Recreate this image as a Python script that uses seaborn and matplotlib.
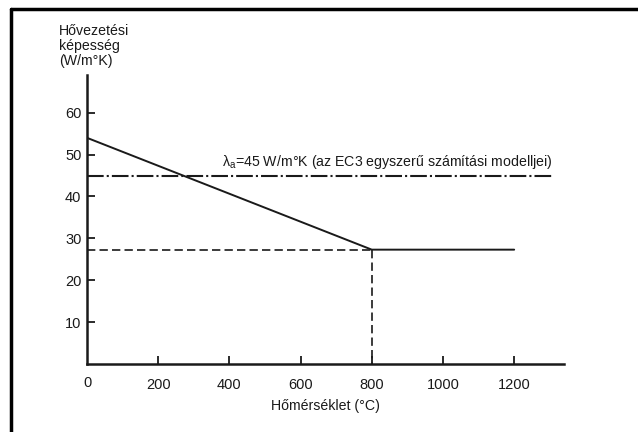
import pandas as pd
import seaborn as sns
import matplotlib.pyplot as plt
from matplotlib.lines import Line2D

sns.set_style("ticks")
plt.rcParams['font.family'] = ['Liberation Sans', 'DejaVu Sans']
plt.rcParams['lines.scale_dashes'] = False
plt.rcParams['mathtext.default'] = 'regular'

# hővezetési tényező a hőmérséklet függvényében
temperature = [0, 800, 1200]
conductivity = [54, 27.3, 27.3]

# EC3 egyszerű modell konstans értéke
ec3_temp = [0, 1305]
ec3_value = [45, 45]

# segédvonalak 800 °C-nál
guide_temp = [0, 800, 800]
guide_value = [27.3, 27.3, 0]

x_ticks = [200, 400, 600, 800, 1000, 1200]
x_labels = ['200', '400', '600', '800', '1000', '1200']
y_ticks = [10, 20, 30, 40, 50, 60]

INK = '#1a1a1a'
FS = 10.2

fig = plt.figure(figsize=(6.38, 4.32), dpi=100)
ax = fig.add_axes([87 / 638, 1 - 364 / 432, (564 - 87) / 638, (364 - 75) / 432])

df = pd.DataFrame({'temp': temperature, 'k': conductivity})
sns.lineplot(data=df, x='temp', y='k', ax=ax, color=INK, lw=1.4)

ax.plot(ec3_temp, ec3_value, color=INK, lw=1.5, dashes=(12, 2.2, 1.5, 2.2))
ax.plot(guide_temp[:2], guide_value[:2], color=INK, lw=1.2, dashes=(6, 3))
ax.plot(guide_temp[1:], guide_value[1:], color=INK, lw=1.2, dashes=(6, 3))

ax.text(380, 48.3, r'$\lambda_a$=45 W/m°K (az EC3 egyszerű számítási modelljei)',
        fontsize=FS, color=INK, va='center', ha='left')

ax.set_xlim(0, 1340)
ax.set_ylim(0, 69)
ax.set_xticks(x_ticks)
ax.set_xticklabels(x_labels)
ax.set_yticks(y_ticks)
ax.tick_params(direction='in', length=6, width=1.3, colors=INK, labelsize=10.5, pad=10)
ax.tick_params(axis='y', pad=4)
ax.text(0, -0.066, '0', transform=ax.get_xaxis_transform(), ha='center', va='center',
        fontsize=10.5, color=INK)
ax.set_xlabel('Hőmérséklet (°C)', fontsize=FS, color=INK, labelpad=5)
ax.set_ylabel('')

for s in ['top', 'right']:
    ax.spines[s].set_visible(False)
for s in ['left', 'bottom']:
    ax.spines[s].set_linewidth(1.8)
    ax.spines[s].set_color(INK)

fig.text(59 / 638, 1 - 24 / 432, 'Hővezetési\nképesség\n(W/m°K)', fontsize=FS,
         color=INK, ha='left', va='top', linespacing=1.1)

# keret a kép körül (csak felső és bal él látszik)
fig.add_artist(Line2D([11 / 638, 1.0], [1 - 9 / 432, 1 - 9 / 432], color='black', lw=2.5,
                      transform=fig.transFigure))
fig.add_artist(Line2D([11 / 638, 11 / 638], [1 - 9 / 432, 0.0], color='black', lw=2.5,
                      transform=fig.transFigure))

fig.savefig('out.png', dpi=100)
